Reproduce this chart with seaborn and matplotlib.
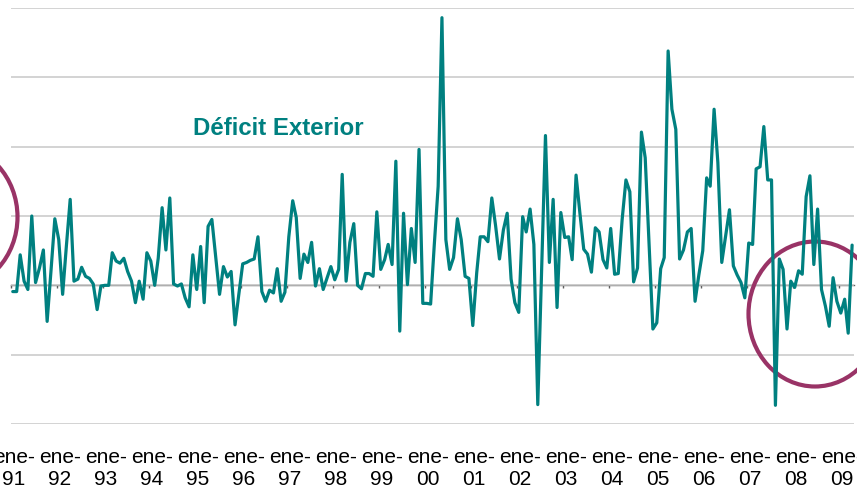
import pandas as pd
import seaborn as sns
import matplotlib.pyplot as plt
from matplotlib.patches import Ellipse
from matplotlib.transforms import ScaledTranslation

# monthly values, Jan 1991 .. Apr 2009 (one row per year)
deficit = [
    -0.09, -0.09, 0.44, 0.06, -0.06, 1.00, 0.04, 0.25, 0.51, -0.52, 0.22, 0.96,
    0.66, -0.13, 0.55, 1.24, 0.06, 0.09, 0.26, 0.13, 0.10, 0.02, -0.35, -0.01,
    0.00, 0.00, 0.47, 0.35, 0.32, 0.39, 0.20, 0.06, -0.25, 0.06, -0.20, 0.47,
    0.35, 0.00, 0.39, 1.12, 0.51, 1.26, 0.02, -0.01, 0.02, -0.18, -0.31, 0.44,
    -0.06, 0.56, -0.25, 0.85, 0.95, 0.40, -0.13, 0.27, 0.12, 0.20, -0.57, -0.13,
    0.31, 0.33, 0.36, 0.38, 0.70, -0.09, -0.23, -0.07, -0.11, 0.24, -0.23, -0.10,
    0.70, 1.22, 0.98, 0.10, 0.45, 0.33, 0.62, -0.01, 0.24, -0.06, 0.11, 0.27,
    0.08, 0.23, 1.60, 0.06, 0.62, 0.89, 0.00, -0.05, 0.17, 0.17, 0.13, 1.06,
    0.23, 0.37, 0.59, 0.30, 1.79, -0.66, 1.04, 0.01, 0.82, 0.33, 1.96, -0.26,
    -0.26, -0.27, 0.58, 1.43, 3.86, 0.66, 0.23, 0.40, 0.96, 0.66, 0.13, 0.10,
    -0.58, 0.18, 0.70, 0.70, 0.63, 1.26, 0.86, 0.38, 0.80, 1.04, 0.09, -0.25,
    -0.39, 0.99, 0.77, 1.10, 0.59, -1.72, 0.20, 2.16, 0.33, 1.24, -0.32, 1.05,
    0.69, 0.70, 0.37, 1.59, 1.05, 0.52, 0.45, 0.19, 0.83, 0.77, 0.37, 0.25,
    0.82, 0.16, 0.17, 0.95, 1.52, 1.35, 0.05, 0.25, 2.21, 1.84, 0.60, -0.63,
    -0.54, 0.24, 0.40, 3.38, 2.54, 2.25, 0.38, 0.51, 0.77, 0.82, -0.23, 0.15,
    0.50, 1.55, 1.43, 2.54, 1.77, 0.33, 0.70, 1.09, 0.28, 0.15, 0.04, -0.18,
    0.61, 0.59, 1.68, 1.71, 2.29, 1.52, 1.52, -1.73, 0.38, 0.23, -0.63, 0.06,
    -0.03, 0.21, 0.16, 1.28, 1.58, 0.30, 1.10, -0.06, -0.30, -0.59, 0.11, -0.23,
    -0.40, -0.20, -0.69, 0.58,
]
years = list(range(1991, 2010))
year_labels = [f"ene-\n{y % 100:02d}" for y in years]
series_name = "Déficit Exterior"

dates = pd.date_range("1991-01-01", periods=len(deficit), freq="MS") + pd.Timedelta(days=14)
df = pd.DataFrame({"fecha": dates, "deficit": deficit})
tick_dates = pd.to_datetime([f"{y}-01-01" for y in years])

sns.set_theme(style="white")
plt.rcParams["font.family"] = ["Liberation Sans", "DejaVu Sans"]

fig = plt.figure(figsize=(8.57, 4.91), dpi=100)
ax = fig.add_axes([11 / 857, 67 / 491, 843 / 857, 416 / 491])

sns.lineplot(data=df, x="fecha", y="deficit", ax=ax, color="#008080",
             lw=2.3, zorder=3)

ax.set_ylim(-2, 4)
ax.set_xlim(pd.Timestamp("1991-01-01"), pd.Timestamp("2009-04-30"))
ax.set_yticks(range(-2, 5))
ax.yaxis.grid(True, color="#c8c8c8", lw=1.1)
ax.xaxis.grid(False)
ax.tick_params(axis="y", left=False, labelleft=False)
ax.set_xticks(tick_dates)
ax.set_xticklabels(year_labels)
ax.tick_params(axis="x", length=0, labelsize=15, pad=17, labelcolor="black")
shift = ScaledTranslation(3 / 100, 0, fig.dpi_scale_trans)
for lab in ax.get_xticklabels():
    lab.set_transform(lab.get_transform() + shift)
ax.set_xlabel("")
ax.set_ylabel("")
sns.despine(ax=ax, left=True, bottom=True)

# zero line with the yearly tick marks
zero = ax.secondary_xaxis(2 / 6)
zero.set_xticks(tick_dates)
zero.set_xticklabels([""] * len(tick_dates))
zero.tick_params(direction="out", length=2.5, width=1, color="#606060")
zero.spines["bottom"].set_color("#606060")
zero.spines["bottom"].set_linewidth(1.0)

ax.text(0.216, 0.7115, series_name, transform=ax.transAxes, fontsize=17.3,
        fontweight="bold", color="#008080", va="center", ha="left")

for cx, cy in [(-49, 217), (815, 314)]:
    ax.add_artist(Ellipse((cx / 857, 1 - cy / 491), 133 / 857, 145 / 491,
                          transform=fig.transFigure, fill=False,
                          ec="#993366", lw=3, clip_on=False, zorder=2))

fig.savefig("out.png", dpi=100)
